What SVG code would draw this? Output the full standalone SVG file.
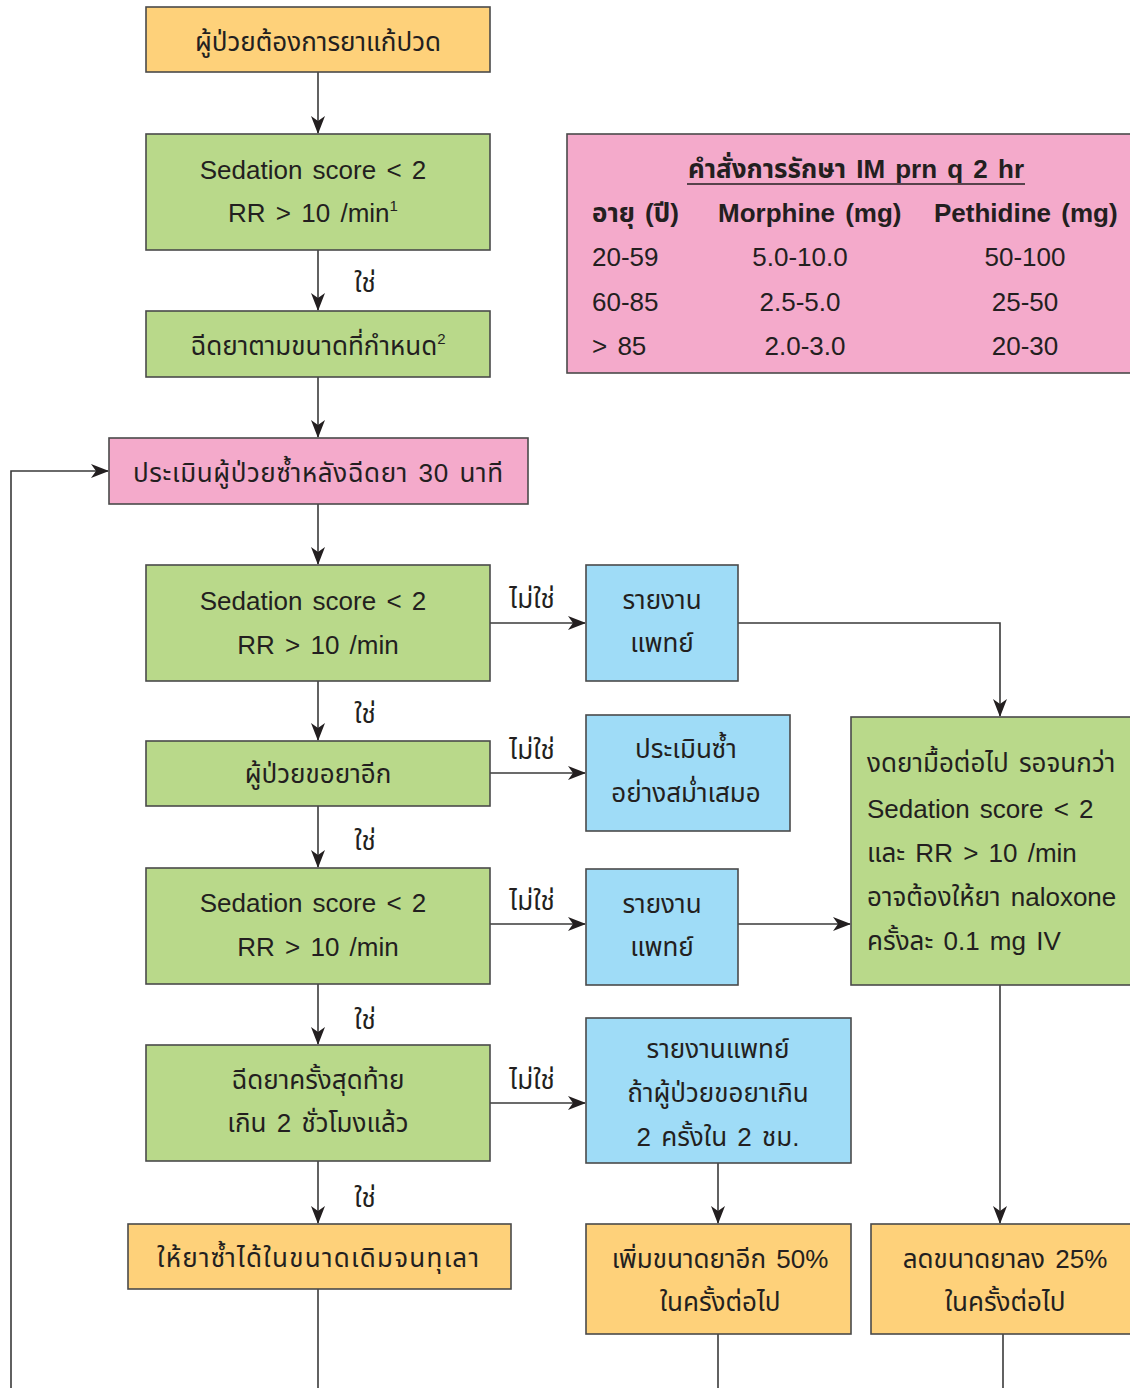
<svg xmlns="http://www.w3.org/2000/svg" width="1130" height="1388" viewBox="0 0 1130 1388">
<defs>
<marker id="ah" markerWidth="18" markerHeight="14" refX="17" refY="7" orient="auto" markerUnits="userSpaceOnUse" viewBox="0 0 18 14">
<path d="M0,0 L18,7 L0,14 L5,7 Z" fill="#231f20"/>
</marker>
<style>
.box{stroke:#4a4a4a;stroke-width:1.6}
.or{fill:#fed17a}
.gr{fill:#b9d98a}
.pk{fill:#f4aacb}
.bl{fill:#9fdcf7}
text{font-family:"Liberation Sans","Noto Sans","Noto Sans Thai",sans-serif;font-size:26px;fill:#231f20;word-spacing:3px}
.c{text-anchor:middle}
.b{font-weight:bold}
.ln{fill:none;stroke:#3a3a3a;stroke-width:1.6}
.sup{font-size:15px}
</style>
</defs>
<rect width="1130" height="1388" fill="#ffffff"/>

<g id="connectors">
<path class="ln" d="M318,72 V133" marker-end="url(#ah)"/>
<path class="ln" d="M318,250 V310" marker-end="url(#ah)"/>
<path class="ln" d="M318,377 V437" marker-end="url(#ah)"/>
<path class="ln" d="M318,504 V564" marker-end="url(#ah)"/>
<path class="ln" d="M318,681 V740" marker-end="url(#ah)"/>
<path class="ln" d="M318,806 V867" marker-end="url(#ah)"/>
<path class="ln" d="M318,984 V1044" marker-end="url(#ah)"/>
<path class="ln" d="M318,1161 V1223" marker-end="url(#ah)"/>
<path class="ln" d="M318,1289 V1388"/>
<path class="ln" d="M490,623 H585" marker-end="url(#ah)"/>
<path class="ln" d="M490,773 H585" marker-end="url(#ah)"/>
<path class="ln" d="M490,924 H585" marker-end="url(#ah)"/>
<path class="ln" d="M490,1103 H585" marker-end="url(#ah)"/>
<path class="ln" d="M738,623 H1000 V716" marker-end="url(#ah)"/>
<path class="ln" d="M738,924 H850" marker-end="url(#ah)"/>
<path class="ln" d="M718,1163 V1223" marker-end="url(#ah)"/>
<path class="ln" d="M1000,985 V1223" marker-end="url(#ah)"/>
<path class="ln" d="M718,1334 V1388"/>
<path class="ln" d="M1003,1334 V1388"/>
<path class="ln" d="M11,1388 V471 H108" marker-end="url(#ah)"/>
<text x="365" y="292" class="c">ใช่</text>
<text x="365" y="723" class="c">ใช่</text>
<text x="365" y="850" class="c">ใช่</text>
<text x="365" y="1029" class="c">ใช่</text>
<text x="365" y="1207" class="c">ใช่</text>
<text x="532" y="608" class="c">ไม่ใช่</text>
<text x="532" y="759" class="c">ไม่ใช่</text>
<text x="532" y="910" class="c">ไม่ใช่</text>
<text x="532" y="1089" class="c">ไม่ใช่</text>
</g>

<g id="n1">
<rect class="box or" x="146" y="7" width="344" height="65"/>
<text x="318" y="51" class="c">ผู้ป่วยต้องการยาแก้ปวด</text>
</g>
<g id="n2">
<rect class="box gr" x="146" y="134" width="344" height="116"/>
<text x="313" y="179" class="c">Sedation score &lt; 2</text>
<text x="313" y="222" class="c">RR &gt; 10 /min<tspan class="sup" dy="-11">1</tspan></text>
</g>
<g id="n3">
<rect class="box gr" x="146" y="311" width="344" height="66"/>
<text x="318" y="355" class="c">ฉีดยาตามขนาดที่กำหนด<tspan class="sup" dy="-11">2</tspan></text>
</g>
<g id="n4">
<rect class="box pk" x="109" y="438" width="419" height="66"/>
<text x="318" y="482" class="c" textLength="370">ประเมินผู้ป่วยซ้ำหลังฉีดยา 30 นาที</text>
</g>
<g id="table">
<rect class="box pk" x="567" y="134" width="570" height="239"/>
<text x="856" y="178" class="c b" textLength="336">คำสั่งการรักษา IM prn q 2 hr</text>
<line x1="687" y1="184" x2="1025" y2="184" stroke="#231f20" stroke-width="1.5"/>
<text x="592" y="222" class="b">อายุ (ปี)</text>
<text x="718" y="222" class="b">Morphine (mg)</text>
<text x="934" y="222" class="b">Pethidine (mg)</text>
<text x="592" y="266">20-59</text>
<text x="800" y="266" class="c">5.0-10.0</text>
<text x="1025" y="266" class="c">50-100</text>
<text x="592" y="311">60-85</text>
<text x="800" y="311" class="c">2.5-5.0</text>
<text x="1025" y="311" class="c">25-50</text>
<text x="592" y="355">&gt; 85</text>
<text x="805" y="355" class="c">2.0-3.0</text>
<text x="1025" y="355" class="c">20-30</text>
</g>
<g id="n5">
<rect class="box gr" x="146" y="565" width="344" height="116"/>
<text x="313" y="610" class="c">Sedation score &lt; 2</text>
<text x="318" y="654" class="c">RR &gt; 10 /min</text>
</g>
<g id="n6">
<rect class="box bl" x="586" y="565" width="152" height="116"/>
<text x="662" y="609" class="c">รายงาน</text>
<text x="662" y="652" class="c">แพทย์</text>
</g>
<g id="n7">
<rect class="box gr" x="851" y="717" width="290" height="268"/>
<text x="867" y="772">งดยามื้อต่อไป รอจนกว่า</text>
<text x="867" y="818">Sedation score &lt; 2</text>
<text x="867" y="862">และ RR &gt; 10 /min</text>
<text x="867" y="906">อาจต้องให้ยา naloxone</text>
<text x="867" y="950">ครั้งละ 0.1 mg IV</text>
</g>
<g id="n8">
<rect class="box gr" x="146" y="741" width="344" height="65"/>
<text x="318" y="783" class="c">ผู้ป่วยขอยาอีก</text>
</g>
<g id="n9">
<rect class="box bl" x="586" y="715" width="204" height="116"/>
<text x="686" y="758" class="c">ประเมินซ้ำ</text>
<text x="686" y="802" class="c">อย่างสม่ำเสมอ</text>
</g>
<g id="n10">
<rect class="box gr" x="146" y="868" width="344" height="116"/>
<text x="313" y="912" class="c">Sedation score &lt; 2</text>
<text x="318" y="956" class="c">RR &gt; 10 /min</text>
</g>
<g id="n11">
<rect class="box bl" x="586" y="869" width="152" height="116"/>
<text x="662" y="913" class="c">รายงาน</text>
<text x="662" y="956" class="c">แพทย์</text>
</g>
<g id="n12">
<rect class="box gr" x="146" y="1045" width="344" height="116"/>
<text x="318" y="1089" class="c">ฉีดยาครั้งสุดท้าย</text>
<text x="318" y="1132" class="c">เกิน 2 ชั่วโมงแล้ว</text>
</g>
<g id="n13">
<rect class="box bl" x="586" y="1018" width="265" height="145"/>
<text x="718" y="1058" class="c">รายงานแพทย์</text>
<text x="718" y="1102" class="c">ถ้าผู้ป่วยขอยาเกิน</text>
<text x="718" y="1146" class="c">2 ครั้งใน 2 ชม.</text>
</g>
<g id="n14">
<rect class="box or" x="128" y="1224" width="383" height="65"/>
<text x="318" y="1267" class="c" textLength="322">ให้ยาซ้ำได้ในขนาดเดิมจนทุเลา</text>
</g>
<g id="n15">
<rect class="box or" x="586" y="1224" width="265" height="110"/>
<text x="720" y="1268" class="c">เพิ่มขนาดยาอีก 50%</text>
<text x="720" y="1311" class="c">ในครั้งต่อไป</text>
</g>
<g id="n16">
<rect class="box or" x="871" y="1224" width="270" height="110"/>
<text x="1005" y="1268" class="c">ลดขนาดยาลง 25%</text>
<text x="1005" y="1311" class="c">ในครั้งต่อไป</text>
</g>
</svg>
